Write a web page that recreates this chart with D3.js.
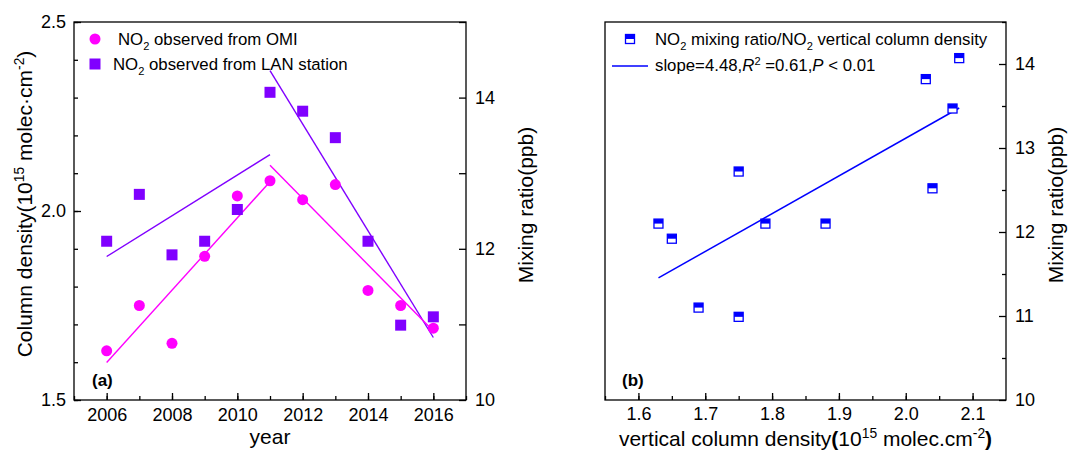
<!DOCTYPE html>
<html>
<head>
<meta charset="utf-8">
<script src="https://cdn.jsdelivr.net/npm/d3@7"></script>
<style>
body { margin: 0; background: #fff; }
text { font-family: "Liberation Sans", Arial, sans-serif; fill: #000; }
.axis path, .axis line { stroke: #000; stroke-width: 1.3; }
</style>
</head>
<body>
<script>
// NO2 per year
const years = [2006, 2007, 2008, 2009, 2010, 2011, 2012, 2013, 2014, 2015, 2016];
const omiColumn = [1.63, 1.75, 1.65, 1.88, 2.04, 2.08, 2.03, 2.07, 1.79, 1.75, 1.69]; // 10^15 molec/cm2
const lanMixing = [12.10, 12.72, 11.92, 12.10, 12.52, 14.07, 13.82, 13.47, 12.10, 10.99, 11.10]; // ppb
const splitYear = 2011; // trend lines fitted 2006-2011 and 2011-2016

const yearTicks = [2006, 2008, 2010, 2012, 2014, 2016];
const columnTicks = [1.5, 2.0, 2.5];
const mixTicksA = [10, 12, 14];
const vcdTicks = [1.6, 1.7, 1.8, 1.9, 2.0, 2.1];
const mixTicksB = [10, 11, 12, 13, 14];

const W = 1069, H = 452;
const OMI_COLOR = "#ff00ff", LAN_COLOR = "#8000ff", FIT_COLOR = "#0000ff";
const TICK_FONT = 18, LABEL_FONT = 21, LEGEND_FONT = 16.8;

let svg = d3.select("body").append("svg")
	.attr("width", W)
	.attr("height", H);

// least squares fit, returns [slope, intercept]
function fit(xs, ys) {
	let mx = d3.mean(xs), my = d3.mean(ys);
	let sxy = d3.sum(xs, (x, i) => (x - mx) * (ys[i] - my));
	let sxx = d3.sum(xs, x => (x - mx) * (x - mx));
	let b = sxy / sxx;
	return [b, my - b * mx];
}

// text made of pieces: {t, sub, sup, i, b}
function richText(g, parts, size) {
	let txt = g.append("text").attr("font-size", size);
	let shift = 0;
	parts.forEach(p => {
		let target = p.sub ? size * 0.32 : p.sup ? -size * 0.36 : 0;
		let ts = txt.append("tspan")
			.attr("dy", target - shift)
			.text(p.t);
		if (p.sub || p.sup) ts.attr("font-size", size * 0.66);
		if (p.i) ts.attr("font-style", "italic");
		if (p.b) ts.attr("font-weight", "bold");
		shift = target;
	});
	return txt;
}

function drawAxis(g, axis, transform) {
	return g.append("g")
		.attr("class", "axis")
		.attr("transform", transform)
		.call(axis)
		.call(s => s.selectAll("text").attr("font-size", TICK_FONT).attr("fill", "#000"))
		.call(s => s.select(".domain").remove());
}

/****** Panel (a) *********/
let a = { left: 74, right: 466, top: 22, bottom: 400 };
let xA = d3.scaleLinear().domain([2005, 2017]).range([a.left, a.right]);
let yCol = d3.scaleLinear().domain([1.5, 2.5]).range([a.bottom, a.top]);
let yMixA = d3.scaleLinear().domain([10, 15]).range([a.bottom, a.top]);

let gA = svg.append("g");

// ticks (inward)
drawAxis(gA, d3.axisBottom(xA).tickValues(d3.range(2005, 2018)).tickSize(-4).tickFormat(""),
	"translate(0," + a.bottom + ")");
drawAxis(gA, d3.axisBottom(xA).tickValues(yearTicks).tickSize(-7).tickPadding(8).tickFormat(d3.format("d")),
	"translate(0," + a.bottom + ")");
drawAxis(gA, d3.axisLeft(yCol).tickValues(d3.range(15, 26).map(v => v / 10)).tickSize(-4).tickFormat(""),
	"translate(" + a.left + ",0)");
drawAxis(gA, d3.axisLeft(yCol).tickValues(columnTicks).tickSize(-7).tickPadding(8).tickFormat(d3.format(".1f")),
	"translate(" + a.left + ",0)");
drawAxis(gA, d3.axisRight(yMixA).tickValues([11, 13, 15]).tickSize(-7).tickFormat(""),
	"translate(" + a.right + ",0)");
drawAxis(gA, d3.axisRight(yMixA).tickValues(mixTicksA).tickSize(-7).tickPadding(9).tickFormat(d3.format("d")),
	"translate(" + a.right + ",0)");

gA.append("rect")
	.attr("x", a.left).attr("y", a.top)
	.attr("width", a.right - a.left).attr("height", a.bottom - a.top)
	.attr("fill", "none").attr("stroke", "#000").attr("stroke-width", 1.3);

// trend lines in two pieces for each series
function trend(g, vals, yScale, color) {
	[[2006, splitYear], [splitYear, 2016]].forEach(([y0, y1]) => {
		let idx = years.map((y, i) => i).filter(i => years[i] >= y0 && years[i] <= y1);
		let [b, c] = fit(idx.map(i => years[i]), idx.map(i => vals[i]));
		g.append("line")
			.attr("x1", xA(y0)).attr("y1", yScale(b * y0 + c))
			.attr("x2", xA(y1)).attr("y2", yScale(b * y1 + c))
			.attr("stroke", color).attr("stroke-width", 1.4);
	});
}
trend(gA, lanMixing, yMixA, LAN_COLOR);
trend(gA, omiColumn, yCol, OMI_COLOR);

gA.selectAll("rect.lan")
	.data(years)
	.enter().append("rect")
		.attr("class", "lan")
		.attr("x", (d, i) => xA(d) - 5.5)
		.attr("y", (d, i) => yMixA(lanMixing[i]) - 5.5)
		.attr("width", 11).attr("height", 11)
		.attr("fill", LAN_COLOR);

gA.selectAll("circle.omi")
	.data(years)
	.enter().append("circle")
		.attr("class", "omi")
		.attr("cx", d => xA(d))
		.attr("cy", (d, i) => yCol(omiColumn[i]))
		.attr("r", 5.5)
		.attr("fill", OMI_COLOR);

// legend (a)
gA.append("circle").attr("cx", 95).attr("cy", 39).attr("r", 5.5).attr("fill", OMI_COLOR);
richText(gA, [{t: "NO"}, {t: "2", sub: true}, {t: " observed from OMI"}], LEGEND_FONT)
	.attr("x", 118).attr("y", 45);
gA.append("rect").attr("x", 89.5).attr("y", 58.5).attr("width", 11).attr("height", 11).attr("fill", LAN_COLOR);
richText(gA, [{t: "NO"}, {t: "2", sub: true}, {t: " observed from LAN station"}], LEGEND_FONT)
	.attr("x", 113).attr("y", 70);

gA.append("text").attr("x", 92).attr("y", 386)
	.attr("font-size", 17).attr("font-weight", "bold").text("(a)");

gA.append("text").attr("x", (a.left + a.right) / 2).attr("y", 444)
	.attr("text-anchor", "middle").attr("font-size", LABEL_FONT).text("year");

richText(gA, [{t: "Column density(10"}, {t: "15", sup: true}, {t: " molec\u00b7cm"}, {t: "-2", sup: true}, {t: ")"}], LABEL_FONT)
	.attr("text-anchor", "middle")
	.attr("transform", "translate(32,204) rotate(-90)");

gA.append("text").attr("text-anchor", "middle").attr("font-size", LABEL_FONT)
	.attr("transform", "translate(533,205) rotate(-90)")
	.text("Mixing ratio(ppb)");

/****** Panel (b) *********/
let bb = { left: 605, right: 1006, top: 22, bottom: 400 };
let xB = d3.scaleLinear().domain([1.55, 2.15]).range([bb.left, bb.right]);
let yMixB = d3.scaleLinear().domain([10, 14.5]).range([bb.bottom, bb.top]);

let gB = svg.append("g");

drawAxis(gB, d3.axisBottom(xB).tickValues(d3.range(31, 43).map(v => v / 20)).tickSize(-4).tickFormat(""),
	"translate(0," + bb.bottom + ")");
drawAxis(gB, d3.axisBottom(xB).tickValues(vcdTicks).tickSize(-7).tickPadding(7).tickFormat(d3.format(".1f")),
	"translate(0," + bb.bottom + ")");
drawAxis(gB, d3.axisRight(yMixB).tickValues(d3.range(21, 30, 2).map(v => v / 2)).tickSize(-4).tickFormat(""),
	"translate(" + bb.right + ",0)");
drawAxis(gB, d3.axisRight(yMixB).tickValues(mixTicksB).tickSize(-7).tickPadding(9).tickFormat(d3.format("d")),
	"translate(" + bb.right + ",0)");

gB.append("rect")
	.attr("x", bb.left).attr("y", bb.top)
	.attr("width", bb.right - bb.left).attr("height", bb.bottom - bb.top)
	.attr("fill", "none").attr("stroke", "#000").attr("stroke-width", 1.3);

let [slope, icpt] = fit(omiColumn, lanMixing);
let xMin = d3.min(omiColumn), xMax = d3.max(omiColumn);
gB.append("line")
	.attr("x1", xB(xMin)).attr("y1", yMixB(slope * xMin + icpt))
	.attr("x2", xB(xMax)).attr("y2", yMixB(slope * xMax + icpt))
	.attr("stroke", FIT_COLOR).attr("stroke-width", 1.5);

// half-filled square marker
function halfSquare(g, cx, cy) {
	let s = 9;
	g.append("rect").attr("x", cx - s / 2).attr("y", cy - s / 2)
		.attr("width", s).attr("height", s)
		.attr("fill", "#fff").attr("stroke", FIT_COLOR).attr("stroke-width", 1.3);
	g.append("rect").attr("x", cx - s / 2).attr("y", cy - s / 2)
		.attr("width", s).attr("height", s / 2)
		.attr("fill", FIT_COLOR);
}
omiColumn.forEach((v, i) => halfSquare(gB, xB(v), yMixB(lanMixing[i])));

// legend (b)
halfSquare(gB, 630, 39);
richText(gB, [{t: "NO"}, {t: "2", sub: true}, {t: " mixing ratio/NO"}, {t: "2", sub: true}, {t: " vertical column density"}], LEGEND_FONT)
	.attr("x", 655).attr("y", 45);
gB.append("line").attr("x1", 612).attr("x2", 648).attr("y1", 66).attr("y2", 66)
	.attr("stroke", FIT_COLOR).attr("stroke-width", 1.5);
richText(gB, [{t: "slope=4.48,"}, {t: "R", i: true}, {t: "2", sup: true}, {t: " =0.61,"}, {t: "P", i: true}, {t: " < 0.01"}], LEGEND_FONT)
	.attr("x", 655).attr("y", 71);

gB.append("text").attr("x", 622).attr("y", 386)
	.attr("font-size", 17).attr("font-weight", "bold").text("(b)");

richText(gB, [{t: "vertical column density"}, {t: "(", b: true}, {t: "10"}, {t: "15", sup: true}, {t: " molec.cm"}, {t: "-2", sup: true}, {t: ")", b: true}], LABEL_FONT)
	.attr("x", (bb.left + bb.right) / 2).attr("y", 446)
	.attr("text-anchor", "middle");

gB.append("text").attr("text-anchor", "middle").attr("font-size", LABEL_FONT)
	.attr("transform", "translate(1063,205) rotate(-90)")
	.text("Mixing ratio(ppb)");
</script>
</body>
</html>
